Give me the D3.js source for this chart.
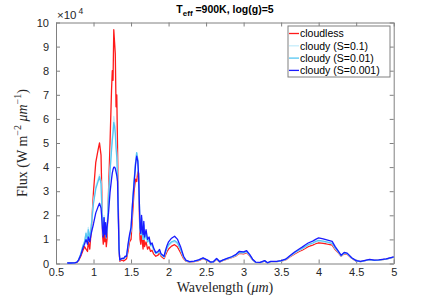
<!DOCTYPE html>
<html lang="en">
<head>
  <meta charset="UTF-8">
  <title>Spectrum</title>
  <script src="https://d3js.org/d3.v7.min.js"></script>
  <style>
    body { margin: 0; background: #fff; }
    .tick text { font-family: "Liberation Sans", Arial, sans-serif; font-size: 11px; fill: #262626; }
    .domain, .tick line { stroke: #808080; }
    .lbl { font-family: "Liberation Serif", "DejaVu Serif", serif; font-size: 14px; fill: #262626; }
    .title { font-family: "Liberation Sans", Arial, sans-serif; font-size: 10.5px; font-weight: bold; fill: #000; }
    .leg { font-family: "Liberation Sans", Arial, sans-serif; font-size: 10.5px; fill: #000; }
  </style>
</head>
<body>
<div id="chart"></div>
<script>
  // wavelength in micron, flux in units of 1e4 W m^-2 um^-1
  const wavelength = [0.65,0.70,0.75,0.78,0.80,0.83,0.86,0.88,0.90,0.92,0.93,0.95,0.97,1.00,1.03,1.06,1.08,1.10,1.11,1.12,1.13,1.14,1.15,1.16,1.17,1.18,1.20,1.22,1.24,1.25,1.26,1.27,1.28,1.29,1.30,1.31,1.32,1.33,1.34,1.35,1.38,1.40,1.42,1.44,1.46,1.48,1.50,1.52,1.54,1.56,1.575,1.59,1.60,1.61,1.62,1.63,1.64,1.65,1.66,1.67,1.68,1.70,1.72,1.74,1.76,1.78,1.80,1.83,1.86,1.88,1.90,1.92,1.94,1.96,1.98,2.00,2.04,2.08,2.12,2.16,2.20,2.23,2.28,2.34,2.40,2.46,2.52,2.56,2.60,2.64,2.68,2.72,2.78,2.84,2.90,2.94,3.00,3.04,3.08,3.12,3.16,3.22,3.28,3.32,3.36,3.44,3.50,3.56,3.62,3.68,3.74,3.78,3.82,3.86,3.92,3.96,4.00,4.06,4.12,4.18,4.22,4.26,4.30,4.34,4.38,4.44,4.50,4.56,4.62,4.68,4.74,4.80,4.90,5.00];
  const cloudless = [0.02,0.02,0.03,0.05,0.12,0.3,0.55,0.7,0.6,0.5,0.9,0.6,1.4,3.0,4.2,4.7,5.0,4.5,3.0,1.2,0.8,1.6,0.9,1.3,0.7,1.0,3.0,5.0,7.2,8.0,7.6,9.7,9.2,8.7,6.5,7.0,4.8,2.5,0.6,0.1,0.15,0.1,0.15,0.2,0.5,0.9,1.0,2.0,3.0,3.5,3.4,3.8,3.75,2.2,1.0,0.8,1.5,0.9,0.6,1.2,0.7,0.9,0.6,0.7,0.5,0.55,0.4,0.3,0.35,0.45,0.3,0.25,0.2,0.35,0.5,0.6,0.72,0.78,0.68,0.45,0.2,0.1,0.06,0.08,0.12,0.2,0.12,0.04,0.06,0.18,0.06,0.12,0.18,0.24,0.32,0.42,0.4,0.45,0.32,0.15,0.05,0.04,0.1,0.02,0.08,0.08,0.1,0.15,0.28,0.4,0.5,0.55,0.62,0.7,0.76,0.82,0.86,0.84,0.8,0.76,0.58,0.45,0.3,0.4,0.38,0.22,0.1,0.08,0.12,0.16,0.13,0.14,0.18,0.26];
  const cloudyS01 = [0.02,0.02,0.03,0.06,0.15,0.4,0.75,0.9,1.3,1.0,1.5,1.1,1.6,2.6,3.2,3.5,3.7,3.4,2.5,1.5,1.2,2.0,1.3,1.7,1.1,1.4,2.8,3.9,4.9,5.3,5.6,6.1,5.9,5.6,5.0,4.6,3.8,2.2,0.6,0.15,0.2,0.2,0.25,0.3,0.7,1.1,1.4,2.5,3.4,4.2,4.6,4.3,3.6,2.6,1.4,1.2,1.9,1.2,1.0,1.6,1.0,1.2,0.9,0.95,0.7,0.75,0.55,0.4,0.45,0.5,0.35,0.3,0.25,0.45,0.6,0.72,0.85,0.9,0.8,0.55,0.25,0.12,0.07,0.09,0.14,0.21,0.13,0.05,0.07,0.19,0.07,0.13,0.19,0.25,0.34,0.45,0.43,0.48,0.34,0.16,0.05,0.04,0.11,0.02,0.08,0.08,0.1,0.16,0.3,0.43,0.54,0.6,0.68,0.76,0.82,0.88,0.93,0.9,0.86,0.82,0.62,0.48,0.31,0.42,0.4,0.23,0.11,0.08,0.12,0.16,0.13,0.14,0.18,0.26];
  const cloudyS001 = [0.02,0.02,0.03,0.06,0.15,0.4,0.75,0.9,1.25,0.95,1.4,1.05,1.55,2.5,3.1,3.4,3.6,3.3,2.4,1.45,1.15,1.9,1.25,1.6,1.05,1.35,2.7,3.8,4.7,5.1,5.4,5.85,5.7,5.4,4.8,4.4,3.6,2.1,0.6,0.15,0.2,0.2,0.25,0.3,0.7,1.1,1.4,2.5,3.4,4.2,4.6,4.3,3.6,2.6,1.4,1.2,1.9,1.25,1.0,1.6,1.0,1.25,0.9,1.0,0.75,0.8,0.6,0.42,0.47,0.52,0.37,0.32,0.27,0.47,0.65,0.78,0.9,0.95,0.85,0.58,0.27,0.12,0.07,0.09,0.14,0.22,0.13,0.05,0.07,0.2,0.07,0.13,0.2,0.26,0.35,0.46,0.45,0.5,0.35,0.16,0.05,0.04,0.11,0.02,0.08,0.08,0.11,0.17,0.31,0.45,0.56,0.62,0.7,0.78,0.85,0.92,0.96,0.93,0.89,0.84,0.64,0.49,0.32,0.43,0.41,0.23,0.11,0.08,0.12,0.16,0.13,0.14,0.18,0.26];
  const cloudyS0001 = [0.02,0.02,0.03,0.06,0.14,0.35,0.65,0.8,1.0,0.8,1.1,0.9,1.25,1.65,2.1,2.35,2.5,2.3,1.9,1.4,1.1,1.9,1.2,1.7,1.1,1.5,2.1,2.95,3.5,3.75,3.9,4.0,4.0,3.95,3.8,3.65,3.4,2.0,0.6,0.15,0.22,0.2,0.3,0.3,0.8,1.2,1.5,2.5,3.3,4.1,4.45,4.25,3.7,2.6,1.5,1.25,2.0,1.4,1.2,1.75,1.1,1.4,1.0,1.1,0.8,0.85,0.65,0.45,0.5,0.58,0.4,0.35,0.3,0.55,0.75,0.9,1.05,1.13,1.0,0.7,0.3,0.14,0.08,0.1,0.15,0.23,0.14,0.06,0.08,0.21,0.08,0.14,0.21,0.28,0.38,0.5,0.48,0.53,0.38,0.18,0.06,0.05,0.12,0.03,0.09,0.09,0.12,0.18,0.33,0.48,0.6,0.68,0.77,0.85,0.93,1.0,1.06,1.02,0.97,0.92,0.7,0.52,0.34,0.46,0.43,0.24,0.12,0.09,0.13,0.17,0.14,0.15,0.19,0.27];

  const seriesNames = ["cloudless", "cloudy (S=0.1)", "cloudy (S=0.01)", "cloudy (S=0.001)"];
  const seriesValues = [cloudless, cloudyS01, cloudyS001, cloudyS0001];
  const colors = ["#ff1a1a", "#c6ecfb", "#55c6f2", "#1a1aff"];

  const xTicks = [0.5, 1, 1.5, 2, 2.5, 3, 3.5, 4, 4.5, 5];
  const yTicks = [0, 1, 2, 3, 4, 5, 6, 7, 8, 9, 10];

  const width = 436, height = 297;
  const margin = {top: 22.5, right: 42.3, bottom: 33.5, left: 56};

  const svg = d3.select("#chart").append("svg")
    .attr("width", width)
    .attr("height", height);

  const x = d3.scaleLinear().domain([0.5, 5]).range([margin.left, width - margin.right]);
  const y = d3.scaleLinear().domain([0, 10]).range([height - margin.bottom, margin.top]);

  // axes, ticks pointing inward like matlab
  svg.append("g")
    .attr("transform", `translate(0,${height - margin.bottom})`)
    .call(d3.axisBottom(x).tickValues(xTicks).tickSizeInner(-4).tickSizeOuter(0).tickPadding(4).tickFormat(d3.format("")))
    .call(g => g.selectAll(".tick text").attr("dy", "0.75em"));
  svg.append("g")
    .attr("transform", `translate(0,${margin.top})`)
    .call(d3.axisTop(x).tickValues(xTicks).tickSizeInner(-4).tickSizeOuter(0).tickFormat(""));
  svg.append("g")
    .attr("transform", `translate(${margin.left},0)`)
    .call(d3.axisLeft(y).tickValues(yTicks).tickSizeInner(-4).tickSizeOuter(0).tickPadding(7));
  svg.append("g")
    .attr("transform", `translate(${width - margin.right},0)`)
    .call(d3.axisRight(y).tickValues(yTicks).tickSizeInner(-4).tickSizeOuter(0).tickFormat(""));

  const line = d3.line()
    .x((d, i) => x(wavelength[i]))
    .y(d => y(d));

  seriesValues.forEach((vals, k) => {
    svg.append("path")
      .datum(vals)
      .attr("fill", "none")
      .attr("stroke", colors[k])
      .attr("stroke-width", 1.3)
      .attr("stroke-linejoin", "round")
      .attr("d", line);
  });

  // exponent label
  const ex = svg.append("text")
    .attr("x", margin.left + 1).attr("y", 19)
    .style("font-family", "Liberation Sans, Arial, sans-serif")
    .style("font-size", "11.5px").style("fill", "#262626");
  ex.append("tspan").text("\u00d710");
  ex.append("tspan").attr("dy", -5).attr("dx", 2).style("font-size", "8.5px").text("4");

  // title
  const t = svg.append("text").attr("class", "title")
    .attr("x", 225).attr("y", 13).attr("text-anchor", "middle");
  t.append("tspan").text("T");
  t.append("tspan").attr("dy", 3).style("font-size", "8px").text("eff");
  t.append("tspan").attr("dy", -3).text(" =900K, log(g)=5");

  // x label
  const xl = svg.append("text").attr("class", "lbl")
    .attr("x", 225).attr("y", 291.5).attr("text-anchor", "middle");
  xl.append("tspan").text("Wavelength (");
  xl.append("tspan").style("font-style", "italic").text("\u03bcm");
  xl.append("tspan").text(")");

  // y label
  const yl = svg.append("text").attr("class", "lbl")
    .attr("transform", `translate(27,${(margin.top + height - margin.bottom) / 2}) rotate(-90)`)
    .attr("text-anchor", "middle");
  yl.append("tspan").text("Flux (W m");
  yl.append("tspan").attr("dy", -6).style("font-size", "10px").text("\u22122");
  yl.append("tspan").attr("dy", 6).text(" ");
  yl.append("tspan").style("font-style", "italic").text("\u03bcm");
  yl.append("tspan").attr("dy", -6).style("font-size", "10px").text("\u22121");
  yl.append("tspan").attr("dy", 6).text(")");

  // legend
  const lg = svg.append("g").attr("transform", "translate(288,26)");
  lg.append("rect").attr("width", 102).attr("height", 51)
    .attr("fill", "#fff").attr("stroke", "#808080").attr("stroke-width", 1);
  seriesNames.forEach((name, k) => {
    const yy = 7.5 + k * 12.3;
    lg.append("line").attr("x1", 1).attr("x2", 11).attr("y1", yy).attr("y2", yy)
      .attr("stroke", colors[k]).attr("stroke-width", 1.3);
    lg.append("text").attr("class", "leg").attr("x", 12).attr("y", yy + 3.7).text(name);
  });
</script>
</body>
</html>
